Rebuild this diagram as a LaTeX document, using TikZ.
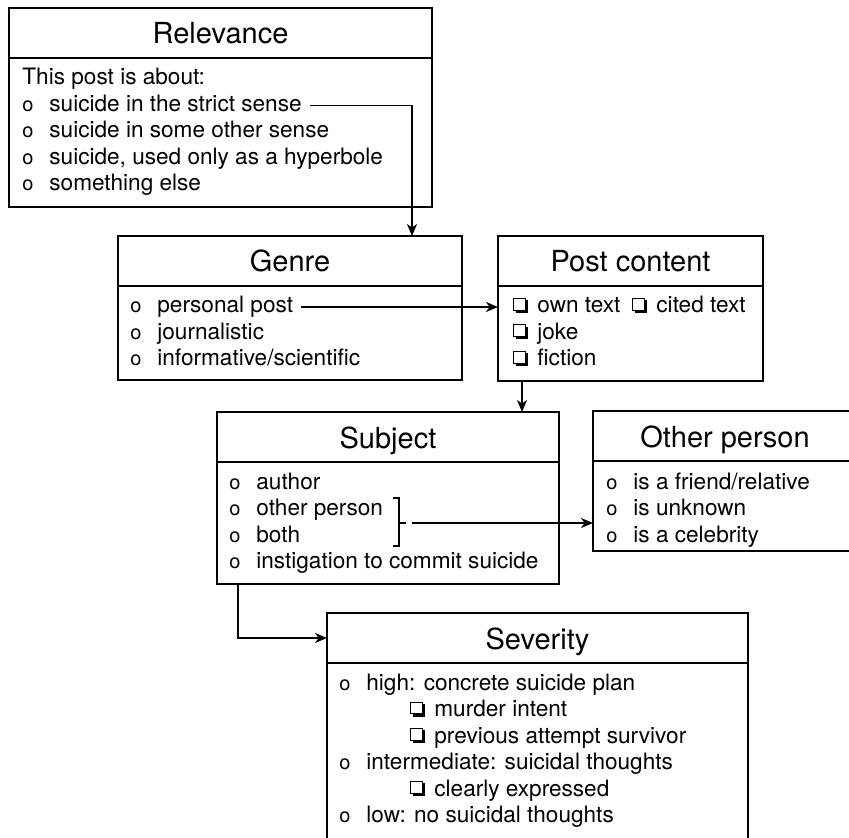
\documentclass[tikz,border=0pt]{standalone}
\usepackage{fontspec}
\setmainfont{TeX Gyre Heros}
\usetikzlibrary{positioning,arrows.meta}
\newcommand\bul{\llap{{\fontsize{10}{10}\selectfont o}\hspace{8pt}}}
% shadowed check box, drawn with rules
\newcommand\chk{\makebox[12pt][l]{%
  \rlap{\hspace{1.1pt}\rule{6.4pt}{1.1pt}}%
  \rlap{\hspace{6.4pt}\rule{1.1pt}{6.4pt}}%
  \rlap{\rule[1.1pt]{6.4pt}{0.5pt}}%
  \rlap{\rule[7pt]{6.4pt}{0.5pt}}%
  \rlap{\rule[1.1pt]{0.5pt}{6.4pt}}%
  \rlap{\hspace{5.9pt}\rule[1.1pt]{0.5pt}{6.4pt}}}}
\tikzset{
  box/.style={draw, line width=0.9pt, inner sep=0pt, outer sep=0pt, minimum width=#1},
  head/.style={box=#1, anchor=north west, minimum height=25pt, text height=11pt, text depth=0pt, font=\fontsize{14.5}{17}\selectfont},
  row/.style={anchor=base west, inner sep=0pt, font=\fontsize{11.3}{13}\selectfont},
  arr/.style={line width=0.8pt, -{Stealth[length=6pt,width=5pt,inset=1.8pt]}},
}
\begin{document}
\begin{tikzpicture}[x=0.5pt,y=-0.5pt]
\useasboundingbox (0,0) rectangle (849,838);
\clip (0,0) rectangle (849,838);
% Relevance
\node[head=211.5pt] (relH) at (9,8) {Relevance};
\node[box=211.5pt, minimum height=74.5pt, below=0pt of relH] (relB) {};
\node[row] (rel0) at (22,85) {This post is about:};
\foreach \t [count=\i] in {suicide in the strict sense, suicide in some other sense, {suicide, used only as a hyperbole}, something else}
  \node[row] (rel\i) at (49,{85+26.5*\i}) {\bul\t};
% Genre
\node[head=172pt] (genH) at (118,236) {Genre};
\node[box=172pt, minimum height=47pt, below=0pt of genH] (genB) {};
\foreach \t [count=\i] in {personal post, journalistic, informative/scientific}
  \node[row] (gen\i) at (157,{286.5+26.5*\i}) {\bul\t};
% Post content
\node[head=132.5pt] (pcH) at (498,236) {Post content};
\node[box=132.5pt, minimum height=47.5pt, below=0pt of pcH] (pcB) {};
\node[row] (pc1) at (513,313) {\chk own text\hspace{6pt}\chk cited text};
\node[row] (pc2) at (513,339.5) {\chk joke};
\node[row] (pc3) at (513,366) {\chk fiction};
% Subject
\node[head=171pt] (subH) at (217,412) {Subject};
\node[box=171pt, minimum height=61pt, below=0pt of subH] (subB) {};
\foreach \t [count=\i] in {author, other person, both, instigation to commit suicide}
  \node[row] (sub\i) at (256,{462.5+26.5*\i}) {\bul\t};
\draw[line width=0.8pt] (393,498) -- (399,498) -- (399,546) -- (393,546) (399,523) -- (406,523);
% Other person
\node[head=132pt] (othH) at (593,411) {Other person};
\node[box=132pt, minimum height=45pt, below=0pt of othH] (othB) {};
\foreach \t [count=\i] in {is a friend/relative, is unknown, is a celebrity}
  \node[row] (oth\i) at (633,{462.5+26.5*\i}) {\bul\t};
% Severity
\node[head=210.5pt] (sevH) at (327,613) {Severity};
\node[box=210.5pt, minimum height=95pt, below=0pt of sevH] (sevB) {};
\node[row] (sev1) at (366,690) {\bul high: concrete suicide plan};
\node[row] (sev2) at (410,716.5) {\chk murder intent};
\node[row] (sev3) at (410,743) {\chk previous attempt survivor};
\node[row] (sev4) at (366,769.5) {\bul intermediate: suicidal thoughts};
\node[row] (sev5) at (410,796) {\chk clearly expressed};
\node[row] (sev6) at (366,822.5) {\bul low: no suicidal thoughts};
% connectors
\coordinate (relOut) at ([shift={(4pt,3pt)}]rel1.base east);
\draw[arr] (relOut) -| ([xshift=-25pt]genH.north east);
\coordinate (genOut) at ([shift={(4pt,3pt)}]gen1.base east);
\draw[arr] (genOut) -- (genOut -| pcB.west);
\coordinate (pcOut) at ([xshift=12pt]pcB.south west);
\draw[arr] (pcOut) -- (pcOut |- subH.north);
\coordinate (brk) at (412,523);
\draw[arr] (brk) -- (brk -| othB.west);
\coordinate (subOut) at ([xshift=10.5pt]subB.south west);
\draw[arr] (subOut) |- (sevH.west);
\end{tikzpicture}
\end{document}
